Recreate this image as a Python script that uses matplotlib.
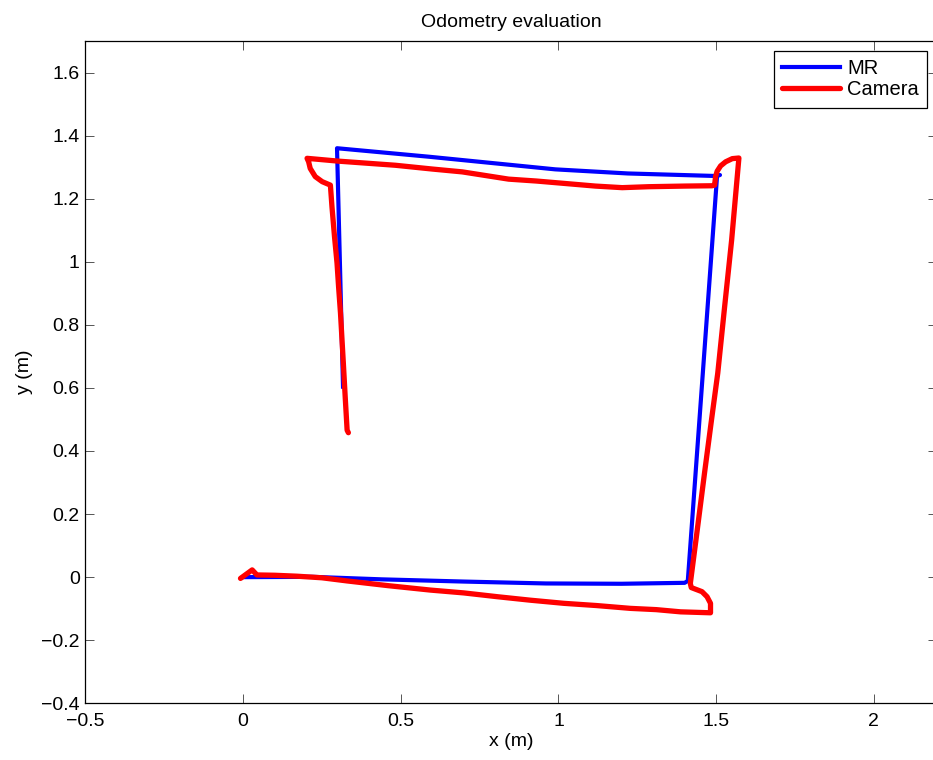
import matplotlib
matplotlib.use("Agg")
import matplotlib.pyplot as plt

plt.rcParams['font.family'] = ['Liberation Sans', 'DejaVu Sans']

# MR odometry (blue)
mr_x = [0.0, 0.22, 0.44, 0.70, 0.96, 1.20, 1.40, 1.41, 1.503, 1.512, 1.498,
        1.22, 0.99, 0.59, 0.298, 0.317]
mr_y = [0.0, 0.001, -0.007, -0.014, -0.020, -0.021, -0.018, -0.012, 1.275,
        1.275, 1.272, 1.280, 1.293, 1.333, 1.360, 0.604]

# camera odometry (red)
cam_x = [-0.008, 0.029, 0.044, 0.10, 0.171, 0.25, 0.330, 0.46, 0.594, 0.70,
         0.806, 0.91, 1.017, 1.12, 1.228, 1.31, 1.387, 1.482, 1.482, 1.471,
         1.455, 1.434, 1.421, 1.418, 1.44, 1.463, 1.484, 1.505, 1.527, 1.549,
         1.572, 1.551, 1.530, 1.514, 1.503, 1.498, 1.495, 1.487, 1.40, 1.286,
         1.202, 1.117, 1.012, 0.93, 0.842, 0.695, 0.60, 0.483, 0.40, 0.303,
         0.203, 0.208, 0.213, 0.229, 0.251, 0.277, 0.282, 0.290, 0.298, 0.303,
         0.309, 0.318, 0.324, 0.330, 0.334]
cam_y = [-0.004, 0.023, 0.007, 0.006, 0.003, -0.002, -0.012, -0.027, -0.041,
         -0.050, -0.062, -0.073, -0.083, -0.090, -0.099, -0.103, -0.110,
         -0.113, -0.083, -0.062, -0.046, -0.038, -0.033, -0.020, 0.15, 0.330,
         0.49, 0.647, 0.86, 1.069, 1.329, 1.327, 1.317, 1.304, 1.287, 1.270,
         1.243, 1.241, 1.240, 1.238, 1.235, 1.240, 1.249, 1.256, 1.262, 1.285,
         1.294, 1.306, 1.312, 1.319, 1.328, 1.317, 1.296, 1.270, 1.254, 1.243,
         1.174, 1.08, 0.996, 0.92, 0.837, 0.679, 0.57, 0.466, 0.458]

fig = plt.figure(figsize=(9.33, 7.6), dpi=100)
ax = fig.add_axes([85.3 / 933, 56.7 / 760, (937 - 85.3) / 933, 662.3 / 760])

ax.plot(mr_x, mr_y, color='#0000ff', lw=3, label='MR', solid_joinstyle='round')
ax.plot(cam_x, cam_y, color='#ff0000', lw=3.8, label='Camera',
        solid_joinstyle='round', solid_capstyle='round')

ax.set_xlim(-0.5, 2.2)
ax.set_ylim(-0.4, 1.7)
ax.set_xticks([-0.5, 0, 0.5, 1, 1.5, 2])
ax.set_xticklabels(['\u22120.5', '0', '0.5', '1', '1.5', '2'])
ax.set_yticks([-0.4, -0.2, 0, 0.2, 0.4, 0.6, 0.8, 1, 1.2, 1.4, 1.6])
ax.set_yticklabels(['\u22120.4', '\u22120.2', '0', '0.2', '0.4', '0.6', '0.8',
                    '1', '1.2', '1.4', '1.6'])
ax.tick_params(direction='in', length=6.3, width=0.7, labelsize=14,
               top=True, right=True, color='#555555')
ax.tick_params(axis='x', pad=7)
ax.tick_params(axis='y', pad=4)
for s in ax.spines.values():
    s.set_linewidth(0.9)

ax.set_title('Odometry evaluation', fontsize=14, pad=10)
ax.set_xlabel('x (m)', fontsize=14, labelpad=2)
ax.set_ylabel('y (m)', fontsize=14, labelpad=6)

leg = ax.legend(loc='upper right', bbox_to_anchor=(926.7 / 933, 1 - 51 / 760),
                bbox_transform=fig.transFigure, borderaxespad=0,
                fontsize=14.5, handlelength=2.9, handletextpad=0.33,
                labelspacing=0.12, borderpad=0.4, fancybox=False,
                edgecolor='black', framealpha=1)
leg.get_frame().set_linewidth(0.9)

fig.savefig('out.png', dpi=100)
